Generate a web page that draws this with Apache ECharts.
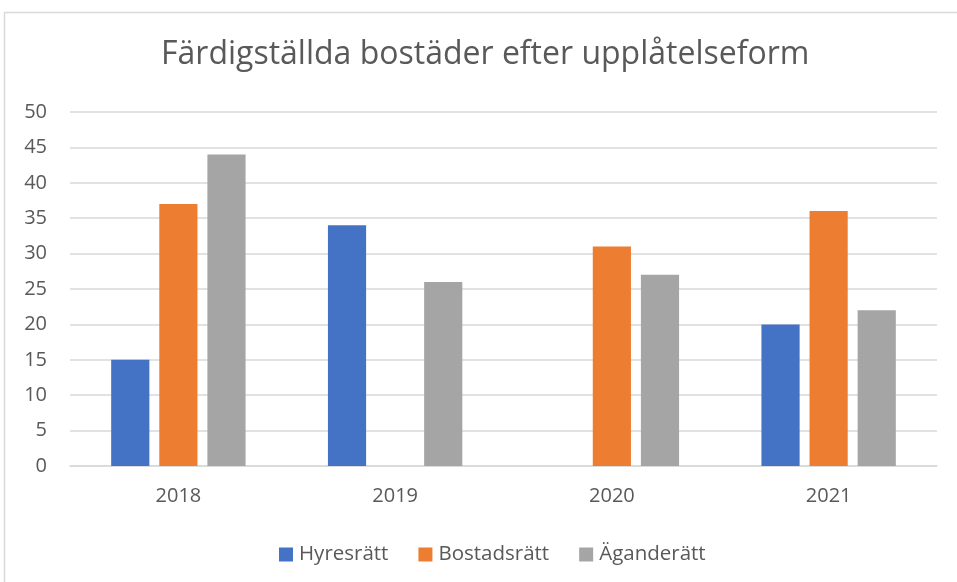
<!DOCTYPE html>
<html>
<head>
<meta charset="utf-8">
<script src="https://cdn.jsdelivr.net/npm/echarts@6/dist/echarts.min.js"></script>
<style>
  html, body { margin: 0; padding: 0; background: #fff; }
  #chart { width: 957px; height: 582px; }
</style>
</head>
<body>
<div id="chart"></div>
<script>
var years = ['2018', '2019', '2020', '2021'];
var hyresratt = [15, 34, null, 20];
var bostadsratt = [37, null, 31, 36];
var aganderatt = [44, 26, 27, 22];
var seriesNames = ['Hyresrätt', 'Bostadsrätt', 'Äganderätt'];
var seriesColors = ['#4472c4', '#ed7d31', '#a5a5a5'];

var fontFam = '"Open Sans", "Noto Sans", sans-serif';
var myChart = echarts.init(document.getElementById('chart'));

function makeSeries(idx, data) {
    return {
        name: seriesNames[idx],
        type: 'bar',
        data: data,
        barGap: '26%',
        barCategoryGap: '38%',
        itemStyle: { color: seriesColors[idx] }
    };
}

var option = {
    backgroundColor: '#fff',
    animation: false,
    graphic: [{
        type: 'rect',
        shape: { x: 4.5, y: 12.5, width: 1000, height: 700 },
        style: { fill: 'none', stroke: '#d9d9d9', lineWidth: 1.5 },
        silent: true
    }],
    title: {
        text: 'Färdigställda bostäder efter upplåtelseform',
        left: 161,
        top: 39,
        padding: 0,
        textStyle: {
            color: '#595959',
            fontSize: 32,
            fontWeight: 'normal',
            fontFamily: fontFam
        }
    },
    legend: {
        top: 539,
        left: 274,
        itemWidth: 14,
        itemHeight: 14,
        itemGap: 30,
        icon: 'rect',
        textStyle: { color: '#595959', fontSize: 20.5, fontFamily: fontFam, padding: [0, 0, 0, 1] },
        data: seriesNames
    },
    grid: {
        left: 70,
        right: 20,
        top: 112,
        bottom: 116,
        containLabel: false
    },
    xAxis: {
        type: 'category',
        data: years,
        axisLine: { lineStyle: { color: '#d9d9d9', width: 1.5 } },
        axisTick: { show: false },
        axisLabel: { color: '#595959', fontSize: 20, margin: 20, fontFamily: fontFam }
    },
    yAxis: {
        type: 'value',
        min: 0,
        max: 50,
        interval: 5,
        axisLine: { show: false },
        axisTick: { show: false },
        splitLine: { lineStyle: { color: '#d9d9d9', width: 1.5 } },
        axisLabel: { color: '#595959', fontSize: 20, margin: 23, fontFamily: fontFam }
    },
    series: [
        makeSeries(0, hyresratt),
        makeSeries(1, bostadsratt),
        makeSeries(2, aganderatt)
    ]
};

myChart.setOption(option);
window.addEventListener('resize', function () { myChart.resize(); });
</script>
</body>
</html>
